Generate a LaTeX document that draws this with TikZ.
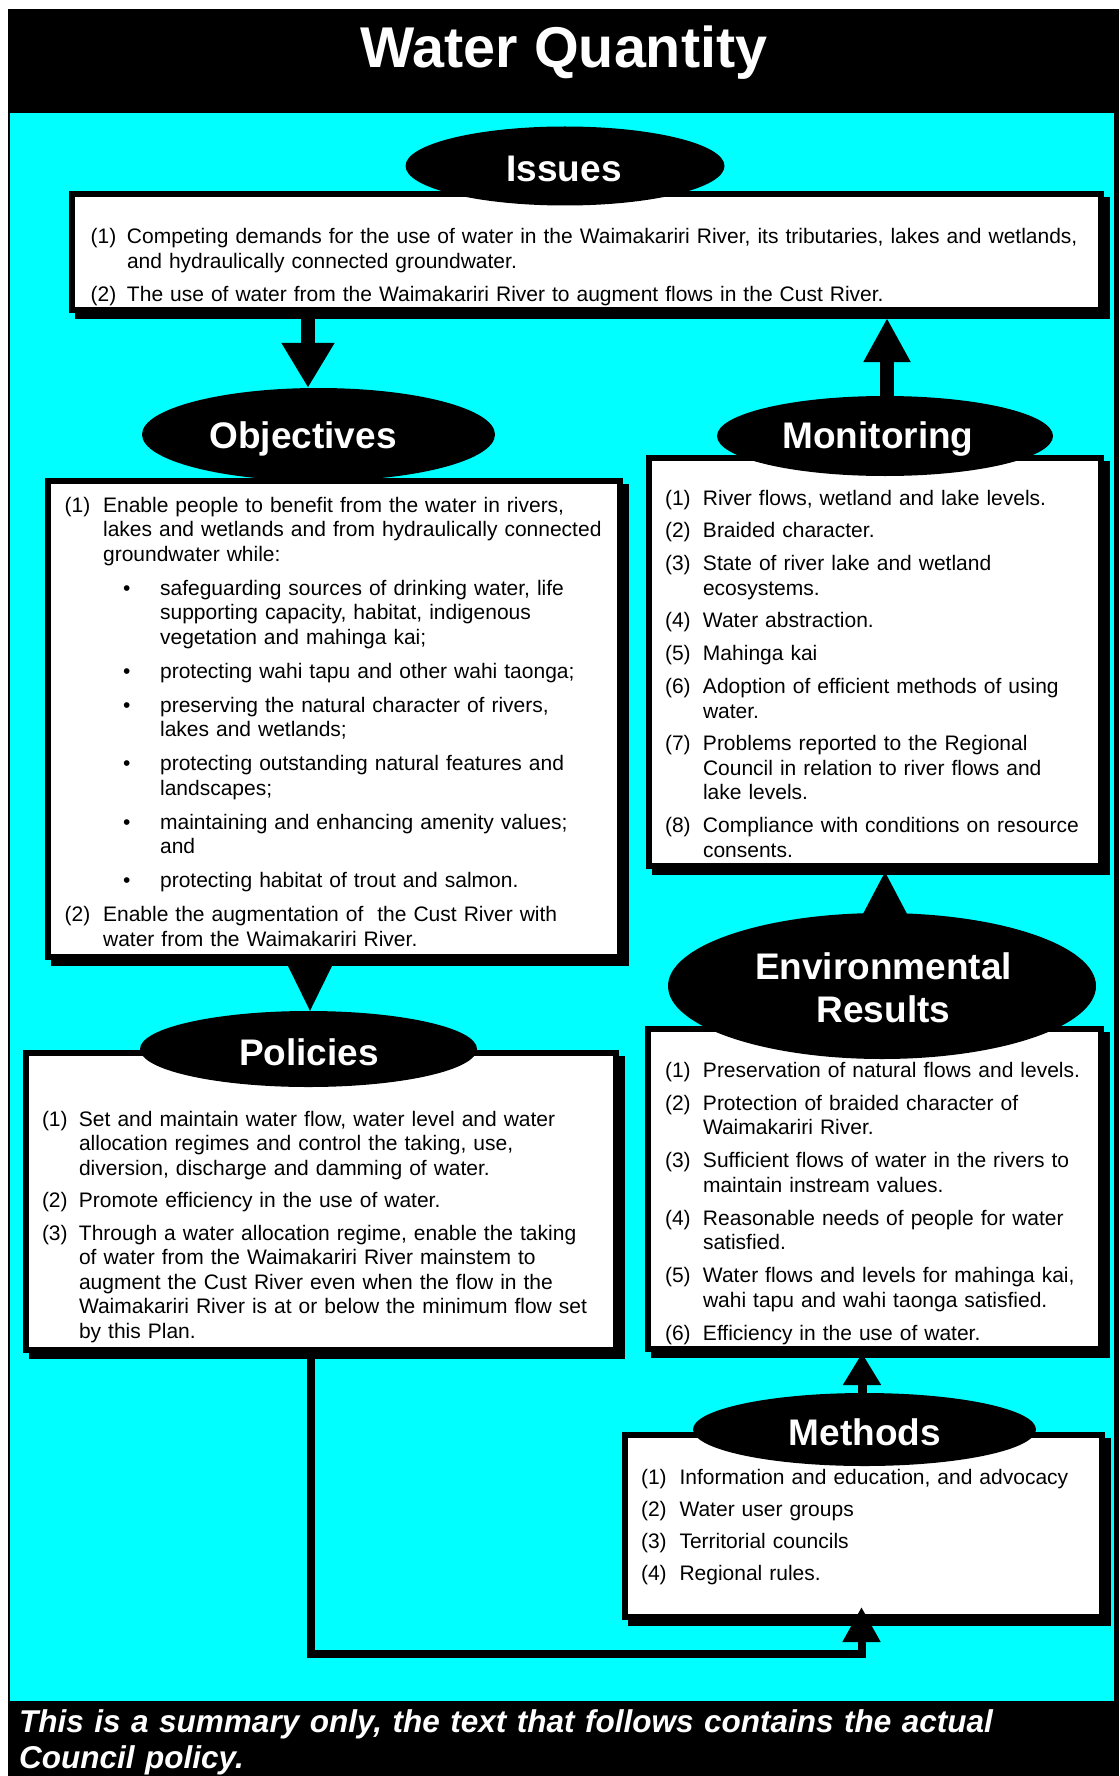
\documentclass[tikz,border=0pt]{standalone}
\usepackage{fontspec}
\setmainfont{Liberation Sans}
\usetikzlibrary{shapes.geometric,arrows.meta,calc}
\definecolor{aqua}{HTML}{00FFFF}

% numbered entry with hanging indent, bullet entry, manual line break
\newlength\lblw
\newcommand\entry[2]{\hangindent=\lblw\hangafter=1\noindent\makebox[\lblw][l]{#1}#2\par}
\newcommand\bul[1]{\hangindent=95.5pt\hangafter=1\noindent\makebox[95.5pt][l]{\hspace*{58.5pt}\textbullet}#1\par}
\newcommand\nl{\hfil\break}

\tikzset{
  panel/.style={draw=black, fill=white, line width=6pt, inner sep=0pt, outer sep=3pt,
    preaction={draw=black, fill=black, line width=6pt, transform canvas={shift={(6pt,-6pt)}}}},
  badge/.style={ellipse, fill=black, inner sep=0pt},
  badgetext/.style={anchor=base, text=white, inner sep=0pt, font=\bfseries\fontsize{37pt}{43pt}\selectfont},
  listtext/.style={anchor=base west, inner sep=0pt, outer sep=0pt, text width=#1, font=\fontsize{21pt}{24.5pt}\selectfont},
  shaft/.style={draw=black, line width=#1},
}

\begin{document}
\begin{tikzpicture}[x=1pt, y=-1pt]
\path[use as bounding box] (0,0) rectangle (1119,1776);
\fill[white] (0,0) rectangle (1119,1776);

% frame, header and footer bands
\fill[black] (8,9) rectangle (1119,1776);
\fill[aqua] (10,113) rectangle (1114,1701);

\node[anchor=base, text=white, inner sep=0pt, font=\bfseries\fontsize{57.5pt}{60pt}\selectfont] (title) at (564,68) {Water Quantity};

\node[anchor=base west, text width=1095pt, inner sep=0pt, text=white,
      font=\bfseries\itshape\fontsize{31.5pt}{36pt}\selectfont] (foot) at (19,1732)
      {This is a summary only, the text that follows contains the actual\\Council policy.};

% panels
\node[panel, minimum width=1029pt, minimum height=116pt] (iss) at (586.5,252) {};
\node[panel, minimum width=572pt,  minimum height=476pt] (obj) at (334,719) {};
\node[panel, minimum width=452pt,  minimum height=408pt] (mon) at (875,662) {};
\node[panel, minimum width=453pt,  minimum height=320pt] (env) at (874.5,1189) {};
\node[panel, minimum width=590pt,  minimum height=297pt] (pol) at (321,1201.5) {};
\node[panel, minimum width=477pt,  minimum height=182pt] (met) at (863.5,1526) {};

% heading badges
\node[badge, minimum width=319pt, minimum height=79pt]  (issl) at (565,166) {};
\node[badge, minimum width=353pt, minimum height=93pt]  (objl) at (318.5,434.5) {};
\node[badge, minimum width=336pt, minimum height=80pt]  (monl) at (885,436) {};
\node[badge, minimum width=428pt, minimum height=146pt] (envl) at (882,986) {};
\node[badge, minimum width=337pt, minimum height=76pt]  (poll) at (308.5,1049) {};
\node[badge, minimum width=343pt, minimum height=73pt]  (metl) at (864.5,1429.5) {};

\node[badgetext] (isst)  at (564,182)    {Issues};
\node[badgetext] (objt)  at (303,448)    {Objectives};
\node[badgetext] (mont)  at (878,448)    {Monitoring};
\node[badgetext] (envt1) at (883.5,979)  {Environmental};
\node[badgetext] (envt2) at (883.5,1022) {Results};
\node[badgetext] (polt)  at (309,1065)   {Policies};
\node[badgetext] (mett)  at (865,1445)   {Methods};

% connectors
\coordinate (xa) at (308,0);
\coordinate (xb) at (887,0);
\coordinate (xc) at (885,0);
\coordinate (xd) at (310,0);
\coordinate (xe) at (862,0);
\coordinate (bend1) at (310.5,1654);
\coordinate (bend2) at (861.5,1654);

\draw[shaft=14pt, -{Triangle[width=50pt,length=45pt]}] (iss.south -| xa) -- (objl.north -| xa);
\draw[shaft=14pt, -{Triangle[width=44pt,length=44pt]}] (monl.north -| xb) -- ($(iss.south -| xb)+(0,5)$);
\fill ($(envl.north -| xc)+(-22.5,2)$) -- ($(envl.north -| xc)+(22.5,2)$) -- ($(mon.south -| xc)+(0,3)$) -- cycle;
\fill ($(obj.south -| xd)+(-22,6)$) -- ($(obj.south -| xd)+(22,6)$) -- (poll.north -| xd) -- cycle;
\draw[shaft=9pt, -{Triangle[width=36pt,length=32pt]}] (metl.north -| xe) -- ($(env.south -| xe)+(0,1)$);
\draw[shaft=8pt, line join=miter, -{Triangle[width=36pt,length=35pt]}]
  (pol.south -| bend1) -- (bend1) -- (bend2) -- ($(met.south -| bend2)+(0,-13)$);

% panel contents
\node[listtext=1010pt] (isstxt) at (90.6,244) {\setlength\lblw{36.4pt}\setlength\parskip{8.5pt}%
\entry{(1)}{Competing demands for the use of water in the Waimakariri River, its tributaries, lakes and wetlands,\nl and hydraulically connected groundwater.}%
\entry{(2)}{The use of water from the Waimakariri River to augment flows in the Cust River.}};

\node[listtext=560pt] (objtxt) at (64.6,512) {\setlength\lblw{38.5pt}\setlength\parskip{9.5pt}%
\entry{(1)}{Enable people to benefit from the water in rivers,\nl lakes and wetlands and from hydraulically connected\nl groundwater while:}%
\bul{safeguarding sources of drinking water, life\nl supporting capacity, habitat, indigenous\nl vegetation and mahinga kai;}%
\bul{protecting wahi tapu and other wahi taonga;}%
\bul{preserving the natural character of rivers,\nl lakes and wetlands;}%
\bul{protecting outstanding natural features and\nl landscapes;}%
\bul{maintaining and enhancing amenity values;\nl and}%
\bul{protecting habitat of trout and salmon.}%
\entry{(2)}{Enable the augmentation of\ \ the Cust River with\nl water from the Waimakariri River.}};

\node[listtext=440pt] (montxt) at (665,505) {\setlength\lblw{38pt}\setlength\parskip{8.3pt}%
\entry{(1)}{River flows, wetland and lake levels.}%
\entry{(2)}{Braided character.}%
\entry{(3)}{State of river lake and wetland\nl ecosystems.}%
\entry{(4)}{Water abstraction.}%
\entry{(5)}{Mahinga kai}%
\entry{(6)}{Adoption of efficient methods of using\nl water.}%
\entry{(7)}{Problems reported to the Regional\nl Council in relation to river flows and\nl lake levels.}%
\entry{(8)}{Compliance with conditions on resource\nl consents.}};

\node[listtext=440pt] (envtxt) at (665,1077) {\setlength\lblw{38pt}\setlength\parskip{8.5pt}%
\entry{(1)}{Preservation of natural flows and levels.}%
\entry{(2)}{Protection of braided character of\nl Waimakariri River.}%
\entry{(3)}{Sufficient flows of water in the rivers to\nl maintain instream values.}%
\entry{(4)}{Reasonable needs of people for water\nl satisfied.}%
\entry{(5)}{Water flows and levels for mahinga kai,\nl wahi tapu and wahi taonga satisfied.}%
\entry{(6)}{Efficiency in the use of water.}};

\node[listtext=580pt] (poltxt) at (42,1126) {\setlength\lblw{37pt}\setlength\parskip{8pt}%
\entry{(1)}{Set and maintain water flow, water level and water\nl allocation regimes and control the taking, use,\nl diversion, discharge and damming of water.}%
\entry{(2)}{Promote efficiency in the use of water.}%
\entry{(3)}{Through a water allocation regime, enable the taking\nl of water from the Waimakariri River mainstem to\nl augment the Cust River even when the flow in the\nl Waimakariri River is at or below the minimum flow set\nl by this Plan.}};

\node[listtext=460pt] (mettxt) at (641,1484) {\setlength\lblw{38.5pt}\setlength\parskip{7.6pt}%
\entry{(1)}{Information and education, and advocacy}%
\entry{(2)}{Water user groups}%
\entry{(3)}{Territorial councils}%
\entry{(4)}{Regional rules.}};
\end{tikzpicture}
\end{document}
